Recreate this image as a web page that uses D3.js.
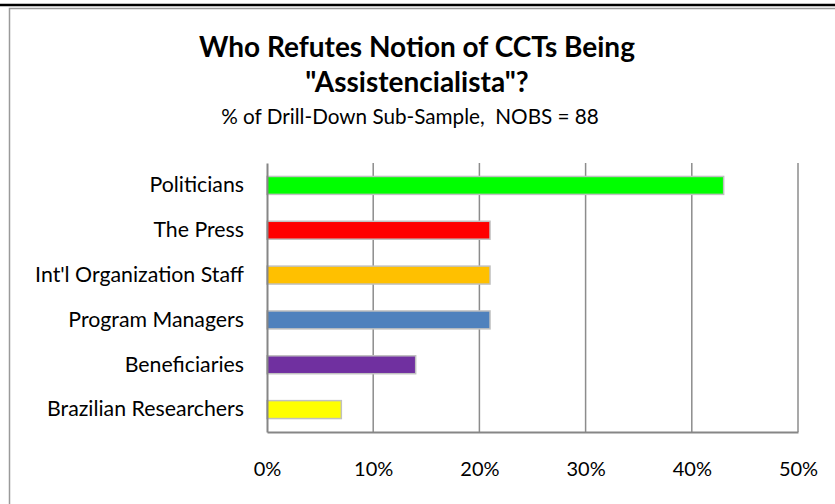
<!DOCTYPE html>
<html>
<head>
<meta charset="utf-8">
<script src="https://cdn.jsdelivr.net/npm/d3@7"></script>
<style>
  html, body { margin: 0; padding: 0; background: #fff; }
  svg { display: block; font-family: Lato, "Open Sans", sans-serif; }
</style>
</head>
<body>
<svg id="chart" width="835" height="504"></svg>
<script>
// Respondent groups, top to bottom
const categories = [
  "Politicians",
  "The Press",
  "Int'l Organization Staff",
  "Program Managers",
  "Beneficiaries",
  "Brazilian Researchers"
];
// Share of the drill-down sub-sample (%)
const values = [43, 21, 21, 21, 14, 7];
const barColors = ["#00ff00", "#ff0000", "#ffc000", "#4f81bd", "#7030a0", "#ffff00"];
const tickValues = [0, 10, 20, 30, 40, 50];
const titleLines = ["Who Refutes Notion of CCTs Being", "\"Assistencialista\"?"];
const subtitle = "% of Drill-Down Sub-Sample,  NOBS = 88";

const svg = d3.select("#chart");
const W = 835, H = 504;

// heavy rule across the top and the chart frame
svg.append("line").attr("x1", 0).attr("x2", W).attr("y1", 5).attr("y2", 5)
  .attr("stroke", "#000").attr("stroke-width", 2.5);
svg.append("rect").attr("x", 9.5).attr("y", 8.5).attr("width", W).attr("height", H)
  .attr("fill", "#fff").attr("stroke", "#9a9a9a").attr("stroke-width", 1.5);

// titles
svg.append("text").attr("x", 417).attr("y", 57).attr("text-anchor", "middle")
  .attr("font-size", 28).attr("font-weight", "bold").attr("fill", "#000").text(titleLines[0]);
svg.append("text").attr("x", 417).attr("y", 92).attr("text-anchor", "middle")
  .attr("font-size", 28).attr("font-weight", "bold").attr("fill", "#000").text(titleLines[1]);
svg.append("text").attr("x", 410).attr("y", 124).attr("text-anchor", "middle")
  .attr("font-size", 20.7).attr("fill", "#000")
  .style("white-space", "pre").text(subtitle);

const plot = { left: 267, right: 798, top: 163, bottom: 432 };

const x = d3.scaleLinear().domain([0, 50]).range([plot.left, plot.right]);
const y = d3.scaleBand().domain(categories).range([plot.top, plot.bottom])
  .paddingInner(0.6).paddingOuter(0.3);

// vertical gridlines
svg.append("g").selectAll("line").data(tickValues.filter(d => d > 0)).join("line")
  .attr("x1", d => x(d)).attr("x2", d => x(d))
  .attr("y1", plot.top).attr("y2", plot.bottom)
  .attr("stroke", "#8c8c8c").attr("stroke-width", 1.5);

// bars
svg.append("g").selectAll("rect").data(categories).join("rect")
  .attr("x", x(0))
  .attr("y", d => y(d))
  .attr("width", (d, i) => x(values[i]) - x(0))
  .attr("height", y.bandwidth())
  .attr("fill", (d, i) => barColors[i])
  .attr("stroke", "#c0c0c0").attr("stroke-width", 1.5);

// category axis
const yAxis = svg.append("g").attr("transform", `translate(${plot.left},0)`)
  .call(d3.axisLeft(y).tickSize(0).tickPadding(23));
yAxis.select(".domain").attr("stroke", "#868686").attr("stroke-width", 2);
yAxis.selectAll("text").attr("font-size", 21.3).attr("fill", "#000")
  .attr("font-family", "Lato, 'Open Sans', sans-serif");

// value axis
const xAxis = svg.append("g").attr("transform", `translate(0,${plot.bottom})`)
  .call(d3.axisBottom(x).tickValues(tickValues).tickSize(0).tickPadding(30)
    .tickFormat(d => d + "%"));
xAxis.select(".domain").attr("stroke", "#868686").attr("stroke-width", 2);
xAxis.selectAll("text").attr("font-size", 20).attr("fill", "#000")
  .attr("font-family", "Lato, 'Open Sans', sans-serif");
</script>
</body>
</html>
